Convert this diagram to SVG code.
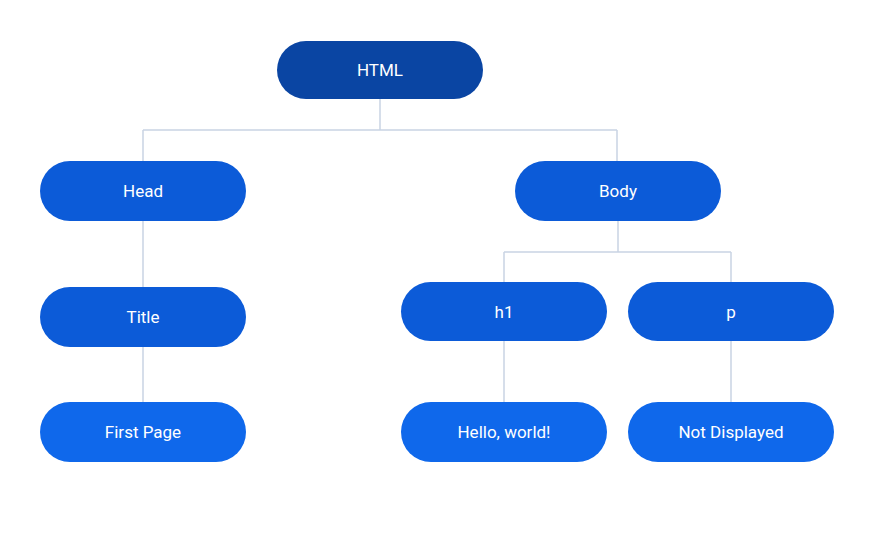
<svg xmlns="http://www.w3.org/2000/svg" width="880" height="537" viewBox="0 0 880 537">
<style>
.lvl0{fill:#0A45A3}
.lvl1{fill:#0C5BD8}
.lvl2{fill:#0F68EB}
.lbl{font-family:Roboto,"Liberation Sans",sans-serif;font-size:17px;fill:#FFFFFF;text-anchor:middle;dominant-baseline:central}
.conn{fill:none;stroke:#C9D4E4;stroke-width:1.5}
</style>
<rect width="880" height="537" fill="#FFFFFF"/>
<g id="connectors">
<path class="conn" d="M380 99V130M143 130H617M143 130V161M617 130V161"/>
<path class="conn" d="M143 221V287M143 347V402"/>
<path class="conn" d="M618 221V252M504 252H731M504 252V282M731 252V282"/>
<path class="conn" d="M504 341V402M731 341V402"/>
</g>
<g id="node-html"><rect class="lvl0" x="277" y="41" width="206" height="58" rx="29"/><text class="lbl" x="380" y="70">HTML</text></g>
<g id="node-head"><rect class="lvl1" x="40" y="161" width="206" height="60" rx="30"/><text class="lbl" x="143" y="191">Head</text></g>
<g id="node-body"><rect class="lvl1" x="515" y="161" width="206" height="60" rx="30"/><text class="lbl" x="618" y="191">Body</text></g>
<g id="node-title"><rect class="lvl1" x="40" y="287" width="206" height="60" rx="30"/><text class="lbl" x="143" y="317">Title</text></g>
<g id="node-h1"><rect class="lvl1" x="401" y="282" width="206" height="59" rx="29.5"/><text class="lbl" x="504" y="311.5">h1</text></g>
<g id="node-p"><rect class="lvl1" x="628" y="282" width="206" height="59" rx="29.5"/><text class="lbl" x="731" y="311.5">p</text></g>
<g id="node-firstpage"><rect class="lvl2" x="40" y="402" width="206" height="60" rx="30"/><text class="lbl" x="143" y="432">First Page</text></g>
<g id="node-hello"><rect class="lvl2" x="401" y="402" width="206" height="60" rx="30"/><text class="lbl" x="504" y="432">Hello, world!</text></g>
<g id="node-notdisplayed"><rect class="lvl2" x="628" y="402" width="206" height="60" rx="30"/><text class="lbl" x="731" y="432">Not Displayed</text></g>
</svg>
